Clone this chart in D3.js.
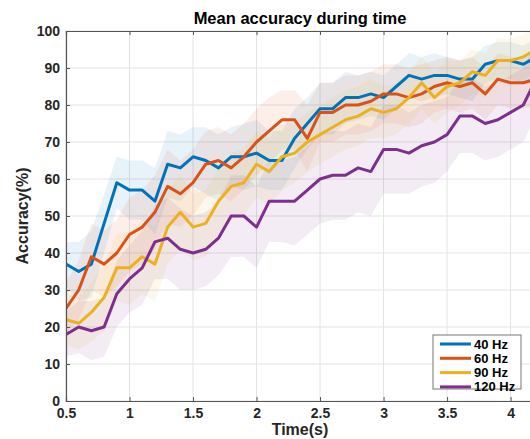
<!DOCTYPE html>
<html>
<head>
<meta charset="utf-8">
<script src="https://cdn.jsdelivr.net/npm/d3@7"></script>
<style>
  body { margin: 0; background: #fff; }
  svg { display: block; font-family: "Liberation Sans", Arial, sans-serif; }
</style>
</head>
<body>
<svg width="530" height="439"></svg>
<script>
const times = d3.range(38).map(i => +(0.5 + i * 0.1).toFixed(1));

const labels = ["40 Hz", "60 Hz", "90 Hz", "120 Hz"];
const colors = ["#0072BD", "#D95319", "#EDB120", "#7E2F8E"];

const hz40 = [37,35,37,48,59,57,57,54,64,63,66,65,63,66,66,67,65,65,71,75,79,79,82,82,83,82,85,88,87,88,88,87,87,91,92,92,91,93];
const hz60 = [25,30,39,37,40,45,47,51,58,56,59,64,65,63,66,70,73,76,76,71,78,78,80,80,81,83,83,82,83,85,86,85,86,83,87,86,86,87];
const hz90 = [22,21,24,28,36,36,39,37,47,51,47,48,54,58,59,64,62,66,67,70,72,74,76,77,79,78,79,82,86,82,85,86,89,88,92,92,93,95];
const hz120 = [18,20,19,20,29,33,36,43,44,41,40,41,44,50,50,47,54,54,54,57,60,61,61,63,62,68,68,67,69,70,72,77,77,75,76,78,80,87];

// half-width of the shaded band around each mean line
const spread40 = [6,8,9,8,7,8,8,9,9,9,8,9,9,8,9,9,8,8,8,7,7,7,7,6,6,6,6,6,6,6,5,5,6,5,5,5,5,5];
const spread60 = [7,8,9,9,9,10,10,10,10,9,9,9,9,9,9,9,9,8,8,9,8,8,8,8,8,8,8,8,8,7,7,7,7,7,7,7,7,7];
const spread90 = [7,7,8,9,9,10,10,10,10,10,9,9,9,9,9,9,9,9,8,8,8,8,8,8,8,7,7,7,7,7,7,6,6,6,6,6,6,6];
const spread120 = [6,7,8,8,9,9,10,10,11,11,10,10,10,11,11,11,11,11,12,12,12,12,12,12,12,12,12,11,11,11,10,10,10,10,10,10,10,10];

const xTicks = [0.5, 1, 1.5, 2, 2.5, 3, 3.5, 4];
const yTicks = [0, 10, 20, 30, 40, 50, 60, 70, 80, 90, 100];

const series = [
  {name: labels[0], color: colors[0], values: hz40, spread: spread40},
  {name: labels[1], color: colors[1], values: hz60, spread: spread60},
  {name: labels[2], color: colors[2], values: hz90, spread: spread90},
  {name: labels[3], color: colors[3], values: hz120, spread: spread120}
];

const plotLeft = 66, plotRight = 536, plotTop = 31, plotBottom = 401;
const axisColor = "#555";

const svg = d3.select("svg");
const x = d3.scaleLinear().domain([0.5, 4.2]).range([plotLeft, plotRight]);
const y = d3.scaleLinear().domain([0, 100]).range([plotBottom, plotTop]);

svg.append("defs").append("clipPath").attr("id", "plot")
  .append("rect").attr("x", plotLeft).attr("y", plotTop)
  .attr("width", plotRight - plotLeft).attr("height", plotBottom - plotTop);

// grid
const grid = svg.append("g").attr("stroke", "#e3e3e3").attr("stroke-width", 1);
grid.selectAll(".gx").data(xTicks).enter().append("line")
  .attr("x1", d => x(d)).attr("x2", d => x(d))
  .attr("y1", plotTop).attr("y2", plotBottom);
grid.selectAll(".gy").data(yTicks).enter().append("line")
  .attr("x1", plotLeft).attr("x2", plotRight)
  .attr("y1", d => y(d)).attr("y2", d => y(d));

const plot = svg.append("g").attr("clip-path", "url(#plot)");

const area = d3.area()
  .x((d, i) => x(times[i]))
  .y0(d => y(d.lo))
  .y1(d => y(d.hi));

series.forEach(s => {
  const band = s.values.map((v, i) => ({lo: v - s.spread[i], hi: v + s.spread[i]}));
  plot.append("path")
    .datum(band)
    .attr("d", area)
    .attr("fill", s.color)
    .attr("fill-opacity", 0.09);
});

const line = d3.line().x((d, i) => x(times[i])).y(d => y(d));
series.forEach(s => {
  plot.append("path")
    .datum(s.values)
    .attr("d", line)
    .attr("fill", "none")
    .attr("stroke", s.color)
    .attr("stroke-width", 3)
    .attr("stroke-linejoin", "round");
});

// axes (ticks point inward)
const xAxis = d3.axisBottom(x).tickValues(xTicks).tickSize(-4).tickPadding(6)
  .tickFormat(d3.format("~g"));
const xAxisG = svg.append("g").attr("transform", `translate(0,${plotBottom})`).call(xAxis);
const yAxis = d3.axisLeft(y).tickValues(yTicks).tickSize(-4).tickPadding(6);
const yAxisG = svg.append("g").attr("transform", `translate(${plotLeft},0)`).call(yAxis);
const topAxis = d3.axisTop(x).tickValues(xTicks).tickSize(-4).tickFormat("");
const topG = svg.append("g").attr("transform", `translate(0,${plotTop})`).call(topAxis);

[xAxisG, yAxisG, topG].forEach(g => {
  g.select(".domain").attr("stroke", axisColor).attr("stroke-width", 1.2);
  g.selectAll(".tick line").attr("stroke", axisColor);
  g.selectAll("text")
    .attr("fill", "#262626")
    .attr("font-size", 14)
    .attr("font-weight", "bold")
    .attr("font-family", "Liberation Sans, Arial, sans-serif");
});
xAxisG.selectAll("text").attr("dy", "0.8em");

// labels
svg.append("text")
  .attr("x", 300).attr("y", 24)
  .attr("text-anchor", "middle")
  .attr("font-size", 16.5).attr("font-weight", "bold")
  .attr("fill", "#000")
  .text("Mean accuracy during time");

svg.append("text")
  .attr("x", 300).attr("y", 435)
  .attr("text-anchor", "middle")
  .attr("font-size", 16).attr("font-weight", "bold")
  .attr("fill", "#262626")
  .text("Time(s)");

svg.append("text")
  .attr("transform", `translate(28,216) rotate(-90)`)
  .attr("text-anchor", "middle")
  .attr("font-size", 16).attr("font-weight", "bold")
  .attr("fill", "#262626")
  .text("Accuracy(%)");

// legend
const legend = svg.append("g").attr("transform", "translate(433,335)");
legend.append("rect")
  .attr("width", 88).attr("height", 54)
  .attr("fill", "#fff").attr("stroke", "#777").attr("stroke-width", 1);
series.forEach((s, i) => {
  const row = legend.append("g").attr("transform", `translate(0,${9 + i * 14.3})`);
  row.append("line")
    .attr("x1", 7).attr("x2", 38)
    .attr("stroke", s.color).attr("stroke-width", 3);
  row.append("text")
    .attr("x", 41).attr("y", 4.5)
    .attr("font-size", 13).attr("font-weight", "bold")
    .attr("fill", "#000")
    .text(s.name);
});
</script>
</body>
</html>
